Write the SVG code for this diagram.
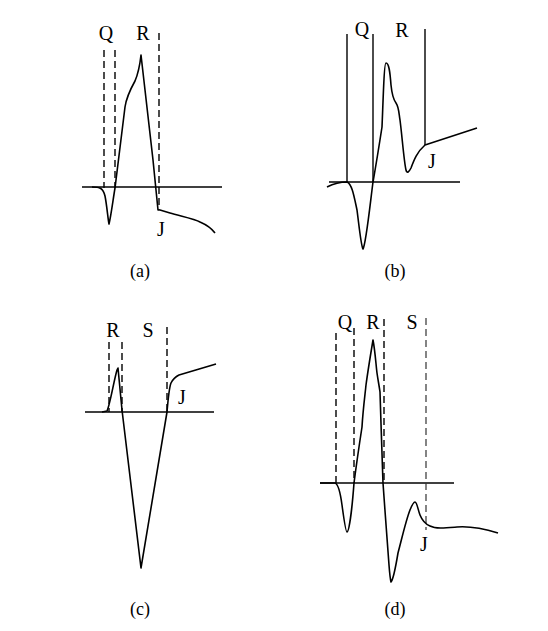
<svg xmlns="http://www.w3.org/2000/svg" width="548" height="631" viewBox="0 0 548 631">
<style>
.lbl{font-family:"Liberation Serif","Times New Roman",serif;font-size:20px;fill:#000;text-anchor:middle}
.cap{font-family:"Liberation Serif","Times New Roman",serif;font-size:18px;fill:#000;text-anchor:middle}
.ax{stroke:#000;stroke-width:1.6;fill:none}
.cv{stroke:#000;stroke-width:1.6;fill:none;stroke-linejoin:round}
.dash{stroke:#000;stroke-width:1.4;stroke-dasharray:7,4;fill:none}
.solid{stroke:#000;stroke-width:1.4;fill:none}
</style>
<rect width="548" height="631" fill="#fff"/>
<g id="panel-a">
<line class="ax" x1="82" y1="187" x2="222" y2="187"/>
<line class="dash" x1="104" y1="50" x2="104" y2="188"/>
<line class="dash" x1="115" y1="50" x2="115" y2="188"/>
<line class="dash" x1="159" y1="33" x2="159" y2="210"/>
<path class="cv" d="M92,187 C100,187 103,188 105,196 C107,206 108,220 109,224 C111,216 113,200 115,188 L125,107 C126,100 130,90 135,81 C138,74 140,64 141,55 L153,160 L158,210 L160,210 L170,213 C180,216 195,219 200,222 C207,225 212,229 215,233"/>
<text class="lbl" x="106" y="40">Q</text>
<text class="lbl" x="143" y="40">R</text>
<text class="lbl" x="161" y="236">J</text>
<text class="cap" x="140" y="277">(a)</text>
</g>
<g id="panel-b">
<line class="ax" x1="329" y1="182" x2="460" y2="182"/>
<line class="solid" x1="347" y1="34" x2="347" y2="182"/>
<line class="solid" x1="373" y1="34" x2="373" y2="182"/>
<line class="solid" x1="425" y1="29" x2="425" y2="145"/>
<path class="cv" d="M327,187 C333,184 338,182 347,182 C352,184 354,196 357,210 C359,225 361,246 363,249 C366,244 370,205 373,182 C376,165 380,140 382,127 C383,105 384,63 386,63 C389,63 390,72 391,85 C392,95 393,99 396,103 C399,107 399,115 400,120 C402,135 404,162 406,170 C407,174 409,172 411,168 C414,160 417,152 425,145 L477,128"/>
<text class="lbl" x="362" y="36">Q</text>
<text class="lbl" x="402" y="37">R</text>
<text class="lbl" x="432" y="168">J</text>
<text class="cap" x="395" y="277">(b)</text>
</g>
<g id="panel-c">
<line class="ax" x1="85" y1="412" x2="214" y2="412"/>
<line class="dash" x1="109" y1="342" x2="109" y2="412"/>
<line class="dash" x1="122" y1="342" x2="122" y2="412"/>
<line class="dash" x1="167" y1="327" x2="167" y2="412"/>
<path class="cv" d="M102,412 L107,411 C110,405 114,380 117,370 L118,368 L122,410 L141,568 L167,412 C168,400 169,388 171,383 C173,379 175,377 179,375 L216,364"/>
<text class="lbl" x="113" y="337">R</text>
<text class="lbl" x="148" y="337">S</text>
<text class="lbl" x="182" y="404">J</text>
<text class="cap" x="140" y="615">(c)</text>
</g>
<g id="panel-d">
<line class="ax" x1="320" y1="483" x2="454" y2="483"/>
<line class="dash" x1="336" y1="333" x2="336" y2="483"/>
<line class="dash" x1="354" y1="328" x2="354" y2="483"/>
<line class="dash" x1="384" y1="319" x2="384" y2="483"/>
<line class="dash" x1="426" y1="318" x2="426" y2="530" style="stroke-width:1.2;stroke:#333"/>
<path class="cv" d="M320,483 L335,483 C338,484 340,490 342,505 C344,520 346,532 347,532 C349,532 352,510 354,483 C357,460 360,440 362,427 C363,410 365,395 366,385 C368,370 371,352 373,340 C375,350 376,365 377,373 C378,380 379,385 380,392 C381,420 382,460 383,483 C385,510 387,540 389,565 C390,578 391,582 391,582 C393,580 396,565 398,553 C402,538 406,520 410,510 C412,505 414,502 415,502 C417,502 418,510 420,515 C422,520 425,524 430,526 C436,529 445,528 457,527 C470,526 485,529 498,533"/>
<text class="lbl" x="345" y="329">Q</text>
<text class="lbl" x="373" y="329">R</text>
<text class="lbl" x="412" y="329">S</text>
<text class="lbl" x="424" y="551">J</text>
<text class="cap" x="395" y="615">(d)</text>
</g>
<g id="connectors"/>
</svg>
